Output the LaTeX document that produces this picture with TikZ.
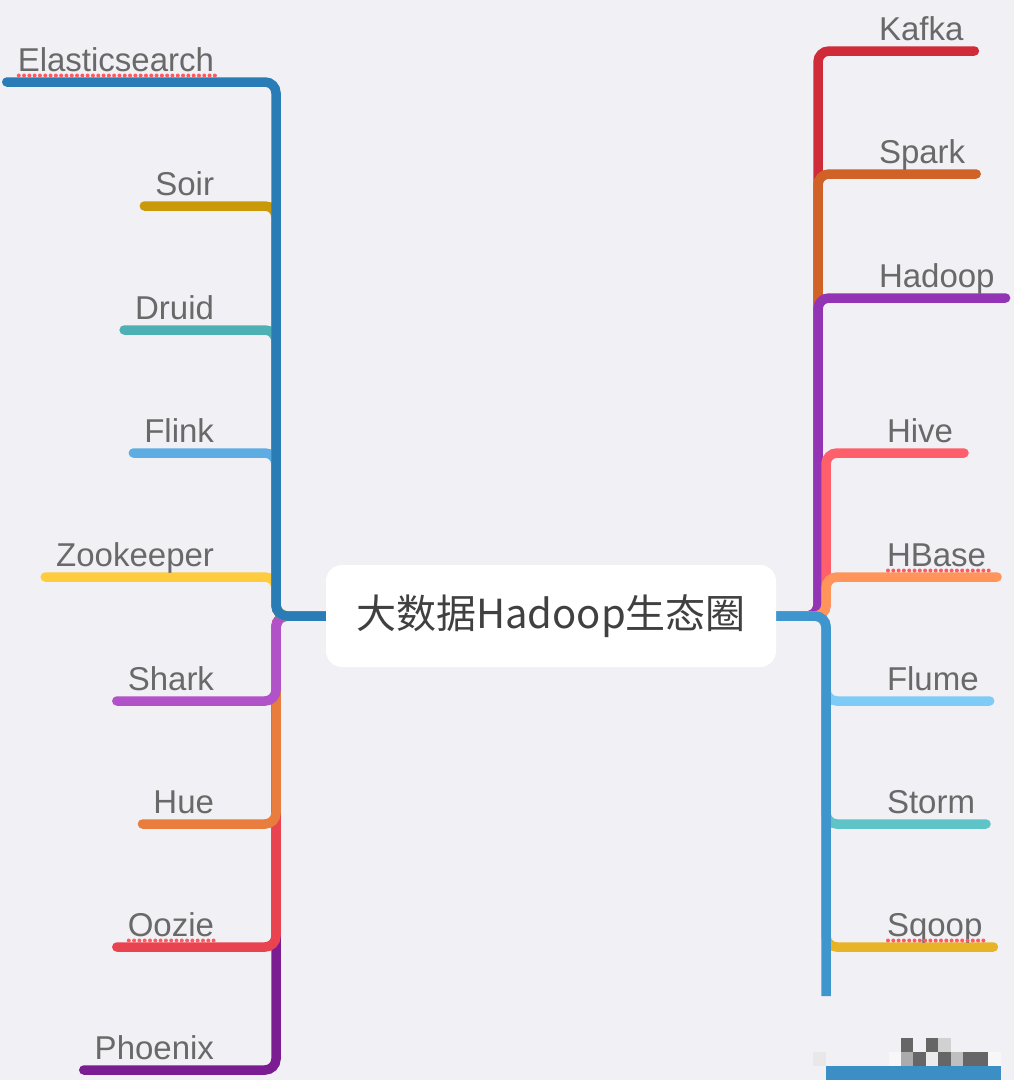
\documentclass[tikz,border=0pt]{standalone}
\usepackage{fontspec}
\setmainfont{Liberation Sans}
\newfontfamily\cjk{Noto Sans CJK SC}
\definecolor{bg}{RGB}{240,240,245}
\definecolor{labelgrey}{RGB}{105,105,105}
\definecolor{centergrey}{RGB}{64,64,64}
\definecolor{squigred}{RGB}{255,90,95}
\definecolor{lblue}{RGB}{42,124,182}
\definecolor{soirc}{RGB}{201,153,10}
\definecolor{druidc}{RGB}{77,176,181}
\definecolor{flinkc}{RGB}{93,173,226}
\definecolor{zooc}{RGB}{255,204,61}
\definecolor{sharkc}{RGB}{178,82,200}
\definecolor{huec}{RGB}{232,125,62}
\definecolor{ooziec}{RGB}{232,67,79}
\definecolor{phoenixc}{RGB}{123,28,147}
\definecolor{rblue}{RGB}{63,150,207}
\definecolor{kafkac}{RGB}{208,43,56}
\definecolor{sparkc}{RGB}{208,98,40}
\definecolor{hadoopc}{RGB}{147,52,180}
\definecolor{hivec}{RGB}{255,95,107}
\definecolor{hbasec}{RGB}{255,149,90}
\definecolor{flumec}{RGB}{127,203,247}
\definecolor{stormc}{RGB}{94,196,200}
\definecolor{sqoopc}{RGB}{232,180,39}
\pgfdeclarelayer{backlayer}
\pgfdeclarelayer{linelayer}
\pgfsetlayers{backlayer,linelayer,main}
\begin{document}
\begin{tikzpicture}[x=1pt,y=-1pt,
  branch/.style={line width=9.5pt, line cap=round, rounded corners=11pt},
  lbl/.style={font=\fontsize{33}{40}\selectfont, text=labelgrey, inner xsep=11pt, inner ysep=0pt, text depth=10.5pt, outer sep=0pt},
  llbl/.style={lbl, anchor=south east},
  rlbl/.style={lbl, anchor=south west},
  squig/.style={draw=squigred, line width=4pt, line cap=round, dash pattern=on 0pt off 5.3pt},
  ]
\begin{pgfonlayer}{backlayer}
\fill[bg] (0,0) rectangle (1014,1080);
\end{pgfonlayer}
\useasboundingbox (0,0) rectangle (1014,1080);

% central node
\node[fill=white, rounded corners=16pt, minimum width=450pt, minimum height=102pt, inner sep=0pt,
      font=\cjk\fontsize{40}{48}\selectfont, text=centergrey] (root) at (551,616) {大数据Hadoop生态圈};

% trunk bend points
\coordinate (LT) at (276,616);
\coordinate (RA) at (818,616);
\coordinate (RB) at (826,616);
\coordinate (RE) at (826,996);

% left labels
\node[llbl] (elastic) at (225,82) {Elasticsearch};
\node[llbl] (soir) at (225,206) {Soir};
\node[llbl] (druid) at (225,330) {Druid};
\node[llbl] (flink) at (225,453) {Flink};
\node[llbl] (zoo) at (225,577) {Zookeeper};
\node[llbl] (shark) at (225,701) {Shark};
\node[llbl] (hue) at (225,824) {Hue};
\node[llbl] (oozie) at (225,947) {Oozie};
\node[llbl] (phoenix) at (225,1070) {Phoenix};

% right labels
\node[rlbl] (kafka) at (868,51) {Kafka};
\node[rlbl] (spark) at (868,174) {Spark};
\node[rlbl] (hadoop) at (868,298) {Hadoop};
\node[rlbl] (hive) at (876,453) {Hive};
\node[rlbl] (hbase) at (876,577) {HBase};
\node[rlbl] (flume) at (876,701) {Flume};
\node[rlbl] (storm) at (876,824) {Storm};
\node[rlbl] (sqoop) at (876,947) {Sqoop};

\begin{pgfonlayer}{linelayer}
% left lower group
\draw[branch, phoenixc] (root.west) -- (LT) |- (phoenix.south west);
\draw[branch, ooziec] (root.west) -- (LT) |- (oozie.south west);
\draw[branch, huec] (root.west) -- (LT) |- (hue.south west);
\draw[branch, sharkc] (root.west) -- (LT) |- (shark.south west);
% left upper group
\draw[branch, zooc] (root.west) -- (LT) |- (zoo.south west);
\draw[branch, flinkc] (root.west) -- (LT) |- (flink.south west);
\draw[branch, druidc] (root.west) -- (LT) |- (druid.south west);
\draw[branch, soirc] (root.west) -- (LT) |- (soir.south west);
\draw[branch, lblue] (root.west) -- (LT) |- (elastic.south west);

% right lower group
\draw[branch, sqoopc] (root.east) -- (RB) |- (sqoop.south east);
\draw[branch, stormc] (root.east) -- (RB) |- (storm.south east);
\draw[branch, flumec] (root.east) -- (RB) |- (flume.south east);
% right upper group
\draw[branch, kafkac] (root.east) -- (RA) |- (kafka.south east);
\draw[branch, sparkc] (root.east) -- (RA) |- (spark.south east);
\draw[branch, hadoopc] (root.east) -- (RA) |- (hadoop.south east);
\draw[branch, hivec] (root.east) -- (RB) |- (hive.south east);
\draw[branch, hbasec] (root.east) -- (RB) |- (hbase.south east);
% right trunk
\draw[line width=9.5pt, rounded corners=11pt, rblue] (root.east) -- (RB) -- (RE);
\end{pgfonlayer}

% spell-check squiggles
\foreach \n in {elastic,oozie,hbase,sqoop}{
  \draw[squig] ([xshift=12pt,yshift=-4pt]\n.base west) -- ([xshift=-8pt,yshift=-4pt]\n.base east);
}

% mosaic at bottom right
\fill[rblue!95!black] (826,1066) rectangle (1001,1080);
\fill[black!60] (901,1038) rectangle (913,1052);
\fill[black!60] (926,1038) rectangle (938,1052);
\fill[black!18] (938,1038) rectangle (951,1052);
\fill[black!3] (889,1052) rectangle (901,1066);
\fill[black!33] (901,1052) rectangle (913,1066);
\fill[black!60] (913,1052) rectangle (926,1066);
\fill[black!8] (926,1052) rectangle (938,1066);
\fill[black!60] (938,1052) rectangle (951,1066);
\fill[black!25] (951,1052) rectangle (963,1066);
\fill[black!60] (963,1052) rectangle (988,1066);
\fill[black!3] (988,1052) rectangle (1001,1066);
\fill[black!9] (813,1052) rectangle (826,1066);
\end{tikzpicture}
\end{document}
